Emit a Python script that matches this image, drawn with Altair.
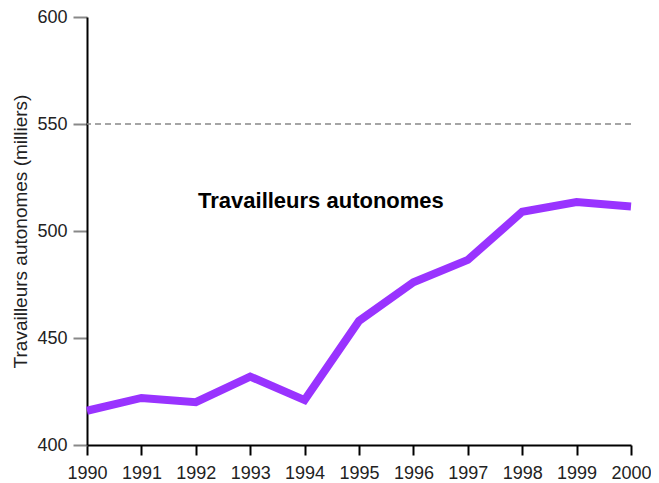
import altair as alt
import pandas as pd

years = [1990, 1991, 1992, 1993, 1994, 1995, 1996, 1997, 1998, 1999, 2000]
values = [416, 422, 420, 432, 421, 458, 476, 486.5, 509, 513.5, 511.5]
ref_value = 550
label_text = "Travailleurs autonomes"
label_year = 1994.3
label_value = 514

df = pd.DataFrame({"year": years, "value": values})

FONT = "Liberation Sans"

x = alt.X("year:Q", scale=alt.Scale(domain=[1990, 2000], nice=False, zero=False),
          axis=alt.Axis(values=years, format="d", title=None, grid=False,
                        domainColor="black", domainWidth=2, tickColor="black",
                        tickWidth=2, tickSize=10, labelFontSize=18, labelFont=FONT,
                        labelColor="#222", labelPadding=9, labelFlush=False))
y = alt.Y("value:Q", scale=alt.Scale(domain=[400, 600], nice=False, zero=False),
          axis=alt.Axis(values=[400, 450, 500, 550, 600], title="Travailleurs autonomes (milliers)",
                        grid=False, domainColor="black", domainWidth=2, tickColor="#888",
                        tickWidth=2, tickSize=14, labelFontSize=18, labelFont=FONT,
                        labelColor="#222", labelPadding=6, titleFont=FONT, titleFontSize=19,
                        titleFontWeight="normal", titleColor="#222", titlePadding=6))

line = alt.Chart(df).mark_line(color="#9933ff", strokeWidth=8, strokeJoin="miter").encode(x=x, y=y)

ref = alt.Chart(pd.DataFrame({"v": [ref_value]})).mark_rule(
    color="#888", strokeDash=[6, 4], strokeWidth=1.5).encode(y=alt.Y("v:Q"))

txt = alt.Chart(pd.DataFrame({"x": [label_year], "y": [label_value], "t": [label_text]})).mark_text(
    font=FONT, fontSize=22, fontWeight="bold", color="black", align="center", baseline="middle"
).encode(x=alt.X("x:Q"), y=alt.Y("y:Q"), text="t:N")

chart = alt.layer(ref, line, txt).properties(
    width=544, height=428,
    autosize=alt.AutoSizeParams(type="none"),
    padding={"left": 79, "top": 9, "right": 20, "bottom": 40},
).configure_view(stroke=None)

chart.save("out.html", embed_options={"renderer": "svg", "actions": False})
